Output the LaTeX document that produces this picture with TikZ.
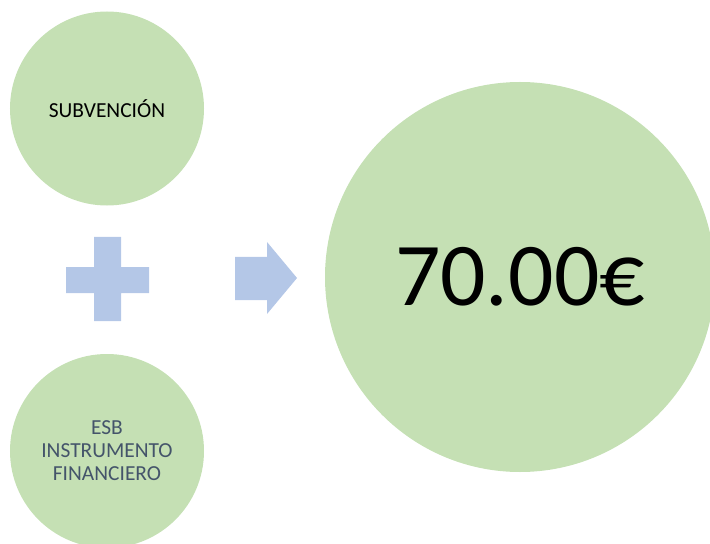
\documentclass[tikz,border=0pt]{standalone}
\usepackage{fontspec}
\setmainfont{Carlito}
\definecolor{circgreen}{HTML}{C5E0B4}
\definecolor{symblue}{HTML}{B4C7E7}
\definecolor{darktext}{HTML}{44546A}
\begin{document}
\begin{tikzpicture}[x=1bp,y=-1bp,
  circ/.style={circle,fill=circgreen,draw=none,inner sep=0pt,align=center},
  symb/.style={fill=symblue,draw=none}]
\useasboundingbox (0,0) rectangle (710,544);
\clip (0,0) rectangle (710,544);
\node[circ,minimum size=194bp,font=\fontsize{21.5}{24}\selectfont] (sub) at (107,108.5) {SUBVENCIÓN};
\node[circ,minimum size=194bp,font=\fontsize{21.5}{23}\selectfont,text=darktext] (esb) at (107,451) {ESB\\INSTRUMENTO\\FINANCIERO};
\node[circ,minimum size=390bp,font=\fontsize{90}{100}\selectfont] (total) at (520,277) {70.00€};
% plus
\fill[symb] (94,237) -- (121,237) -- (121,267) -- (149,267) -- (149,293) -- (121,293) -- (121,321) -- (94,321) -- (94,293) -- (66,293) -- (66,267) -- (94,267) -- cycle;
% arrow
\fill[symb] (235,257) -- (267,257) -- (267,242) -- (297,278) -- (267,314) -- (267,300) -- (235,300) -- cycle;
\end{tikzpicture}
\end{document}
